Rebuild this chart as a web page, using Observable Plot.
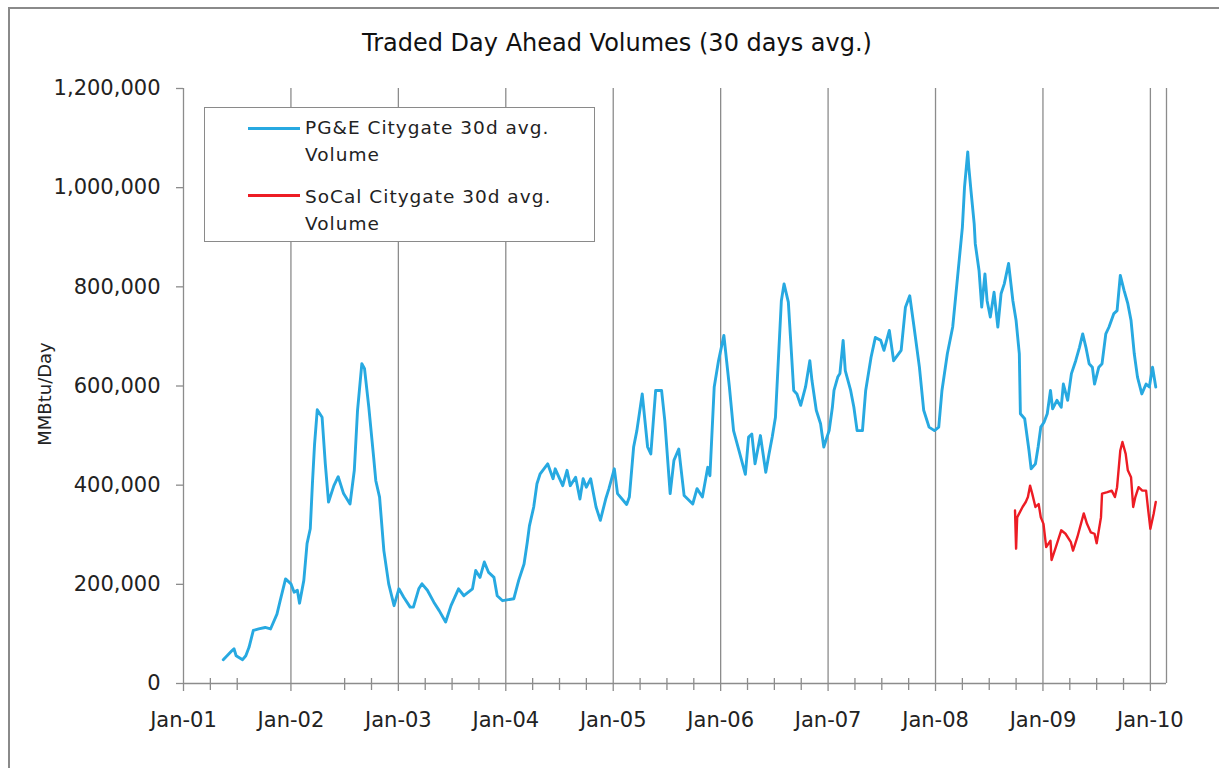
<!DOCTYPE html>
<html>
<head>
<meta charset="utf-8">
<script src="https://cdn.jsdelivr.net/npm/d3@7"></script>
<script src="https://cdn.jsdelivr.net/npm/@observablehq/plot@0.6"></script>
<style>
  body { margin: 0; background: #fff; }
  #wrap { position: relative; width: 1219px; height: 768px; overflow: hidden; background: #fff; font-family: "DejaVu Sans", sans-serif; }
  #frame { position: absolute; left: 8px; top: 7px; width: 1400px; height: 900px; border-left: 2px solid #8a8a8a; border-top: 2px solid #8a8a8a; }
  #chart { position: absolute; left: 0; top: 0; }
  #title { position: absolute; left: 0; width: 1234px; top: 31px; text-align: center; font-size: 24px; line-height: 24px; color: #111; white-space: nowrap; }
  #ylabel { position: absolute; left: 44px; top: 394px; transform: translate(-50%, -50%) rotate(-90deg); font-size: 18px; color: #222; white-space: nowrap; }
  #legend { position: absolute; left: 204px; top: 107px; width: 389px; height: 133px; border: 1px solid #8a8a8a; background: #fff; }
  .sample { position: absolute; left: 43px; width: 52px; height: 2.5px; }
  .ltext { position: absolute; left: 100px; font-size: 18.5px; line-height: 27px; letter-spacing: 1px; color: #222; white-space: nowrap; }
</style>
</head>
<body>
<div id="wrap">
  <div id="frame"></div>
  <div id="chart"></div>
  <div id="title"></div>
  <div id="ylabel"></div>
  <div id="legend"></div>
</div>
<script>
// ---- data ----
const chartTitle = "Traded Day Ahead Volumes (30 days avg.)";
const yLabel = "MMBtu/Day";
const seriesNames = ["PG&E Citygate 30d avg.|Volume", "SoCal Citygate 30d avg.|Volume"];
const seriesColors = ["#27a9e1", "#ed1c24"];

const majorYears = [2001, 2002, 2003, 2004, 2005, 2006, 2007, 2008, 2009, 2010];
const xTickLabels = ["Jan-01", "Jan-02", "Jan-03", "Jan-04", "Jan-05", "Jan-06", "Jan-07", "Jan-08", "Jan-09", "Jan-10"];
const minorTicks = [2001.25, 2001.5, 2002.5, 2002.75,
  2003.25, 2003.5, 2003.75, 2004.25, 2004.5, 2004.75, 2005.25, 2005.5, 2005.75,
  2006.25, 2006.5, 2006.75, 2007.25, 2007.5, 2007.75, 2008.25, 2008.5, 2008.75,
  2009.25, 2009.5, 2009.75];
const xEnd = 2010.15;
const yTicks = [0, 200000, 400000, 600000, 800000, 1000000, 1200000];

// PG&E Citygate 30d avg. volume (decimal year, MMBtu/day)
const pgeYears = [2001.37,2001.45,2001.47,2001.49,2001.55,2001.58,2001.61,2001.65,2001.70,2001.76,2001.81,2001.87,2001.90,2001.95,
  2002.00,2002.03,2002.06,2002.08,2002.12,2002.15,2002.18,2002.20,2002.22,2002.245,2002.29,2002.32,2002.35,2002.40,2002.44,2002.49,2002.55,2002.59,2002.62,2002.66,2002.685,2002.725,2002.77,2002.79,2002.825,2002.865,2002.91,2002.96,
  2003.005,2003.05,2003.11,2003.14,2003.19,2003.22,2003.27,2003.33,2003.38,2003.44,2003.49,2003.56,2003.61,2003.69,2003.72,2003.76,2003.80,2003.84,2003.89,2003.92,2003.97,
  2004.075,2004.12,2004.17,2004.20,2004.22,2004.26,2004.29,2004.32,2004.39,2004.44,2004.46,2004.53,2004.57,2004.60,2004.65,2004.69,2004.72,2004.75,2004.79,2004.84,2004.88,2004.93,2004.96,
  2005.01,2005.04,2005.125,2005.15,2005.19,2005.22,2005.27,2005.32,2005.35,2005.395,2005.45,2005.48,2005.53,2005.565,2005.61,2005.66,2005.74,2005.78,2005.83,2005.88,2005.90,2005.94,2005.98,
  2006.03,2006.08,2006.12,2006.17,2006.23,2006.26,2006.29,2006.32,2006.37,2006.42,2006.45,2006.48,2006.51,2006.54,2006.565,2006.59,2006.63,2006.65,2006.68,2006.71,2006.745,2006.79,2006.83,2006.85,2006.89,2006.93,2006.96,2006.99,
  2007.01,2007.04,2007.055,2007.09,2007.11,2007.14,2007.16,2007.21,2007.24,2007.27,2007.32,2007.35,2007.40,2007.44,2007.49,2007.52,2007.57,2007.61,2007.68,2007.72,2007.76,2007.80,2007.85,2007.89,2007.94,2007.99,
  2008.03,2008.06,2008.11,2008.16,2008.19,2008.22,2008.25,2008.27,2008.30,2008.31,2008.33,2008.36,2008.37,2008.405,2008.43,2008.46,2008.48,2008.51,2008.545,2008.58,2008.61,2008.64,2008.68,2008.72,2008.75,2008.78,2008.79,2008.83,2008.87,2008.89,2008.93,2008.955,2008.98,
  2009.01,2009.04,2009.07,2009.09,2009.13,2009.17,2009.19,2009.23,2009.265,2009.305,2009.34,2009.37,2009.40,2009.43,2009.46,2009.48,2009.52,2009.55,2009.585,2009.615,2009.66,2009.69,2009.72,2009.755,2009.79,2009.82,2009.85,2009.88,2009.92,2009.96,2009.99,
  2010.02,2010.05];
const pgeValues = [48000,66000,70000,56000,48000,56000,73000,107000,110000,113000,110000,140000,167000,211000,
  201000,184000,188000,162000,208000,282000,312000,403000,483000,552000,537000,443000,366000,399000,417000,383000,362000,430000,551000,645000,635000,557000,456000,409000,376000,268000,201000,157000,
  191000,174000,154000,154000,191000,201000,188000,164000,147000,124000,157000,191000,177000,191000,228000,214000,245000,224000,214000,177000,167000,
  171000,208000,241000,285000,318000,356000,403000,423000,443000,413000,433000,399000,430000,399000,416000,372000,413000,396000,413000,356000,329000,372000,393000,
  433000,383000,361000,376000,477000,510000,584000,477000,463000,591000,591000,530000,383000,450000,473000,379000,362000,393000,376000,436000,419000,598000,651000,
  702000,601000,510000,470000,422000,497000,503000,443000,500000,426000,463000,497000,537000,665000,772000,806000,769000,698000,591000,584000,561000,598000,651000,611000,551000,524000,477000,497000,
  510000,557000,591000,618000,625000,692000,631000,591000,557000,510000,510000,591000,658000,698000,692000,672000,712000,651000,672000,759000,782000,719000,638000,551000,517000,510000,
  517000,591000,665000,719000,786000,853000,920000,1001000,1072000,1041000,994000,927000,887000,833000,759000,826000,772000,739000,789000,719000,786000,806000,847000,772000,732000,665000,544000,534000,470000,433000,443000,477000,517000,
  527000,544000,591000,554000,571000,557000,604000,571000,625000,651000,678000,705000,678000,645000,638000,604000,638000,645000,705000,719000,746000,752000,823000,793000,766000,732000,665000,618000,584000,604000,598000,
  638000,598000];

// SoCal Citygate 30d avg. volume (decimal year, MMBtu/day)
const socalYears = [2008.74,2008.75,2008.76,2008.81,2008.84,2008.86,2008.88,2008.90,2008.93,2008.96,2008.98,
  2009.005,2009.03,2009.07,2009.08,2009.12,2009.17,2009.21,2009.26,2009.28,2009.32,2009.38,2009.41,2009.445,2009.48,2009.50,2009.54,2009.55,2009.60,2009.64,2009.67,2009.69,2009.72,2009.74,2009.77,2009.79,2009.82,2009.84,2009.86,2009.89,2009.925,2009.96,2009.98,
  2010.00,2010.03,2010.05];
const socalValues = [349000,272000,335000,356000,366000,376000,399000,383000,356000,362000,335000,
  322000,275000,288000,249000,275000,309000,302000,285000,268000,295000,343000,322000,305000,302000,283000,335000,383000,386000,389000,376000,396000,470000,487000,463000,430000,416000,356000,376000,396000,389000,389000,349000,
  312000,342000,366000];

// ---- build tables ----
const pge = pgeYears.map((t, i) => ({year: t, value: pgeValues[i]}));
const socal = socalYears.map((t, i) => ({year: t, value: socalValues[i]}));
const gridYears = majorYears.slice(1);
const gray = "#8c8c8c";

const chart = Plot.plot({
  width: 1219,
  height: 768,
  marginTop: 88,
  marginBottom: 85,
  marginLeft: 183,
  marginRight: 53,
  style: {fontFamily: "DejaVu Sans", fontSize: "21px", color: "#222", background: "transparent", overflow: "visible"},
  x: {type: "linear", domain: [2001, xEnd]},
  y: {domain: [0, 1200000]},
  marks: [
    Plot.ruleX(gridYears, {stroke: gray, strokeWidth: 1.3, insetBottom: -8}),
    Plot.ruleX([xEnd], {stroke: gray, strokeWidth: 1.3}),
    Plot.ruleX(minorTicks, {stroke: gray, strokeWidth: 1.3, insetTop: 590, insetBottom: -7}),
    Plot.ruleX([2001], {stroke: gray, strokeWidth: 1.3, insetBottom: -8}),
    Plot.ruleY([0], {stroke: gray, strokeWidth: 1.3}),
    Plot.axisX({ticks: majorYears, tickFormat: d => xTickLabels[majorYears.indexOf(d)], tickSize: 0, tickPadding: 29, label: null, fill: "#222"}),
    Plot.axisY({ticks: yTicks, tickFormat: d3.format(","), tickSize: 7, tickPadding: 16, label: null, stroke: gray, strokeWidth: 1.3, fill: "#222"}),
    Plot.line(pge, {x: "year", y: "value", stroke: seriesColors[0], strokeWidth: 2.9, curve: "linear"}),
    Plot.line(socal, {x: "year", y: "value", stroke: seriesColors[1], strokeWidth: 2.4, curve: "linear"})
  ]
});
document.getElementById("chart").appendChild(chart);

document.getElementById("title").textContent = chartTitle;
document.getElementById("ylabel").textContent = yLabel;

// legend
const legend = document.getElementById("legend");
const sampleTops = [19, 86];
const textTops = [6, 75];
seriesNames.forEach((name, i) => {
  const s = document.createElement("div");
  s.className = "sample";
  s.style.top = sampleTops[i] + "px";
  s.style.background = seriesColors[i];
  legend.appendChild(s);
  const t = document.createElement("div");
  t.className = "ltext";
  t.style.top = textTops[i] + "px";
  const parts = name.split("|");
  t.appendChild(document.createTextNode(parts[0]));
  t.appendChild(document.createElement("br"));
  t.appendChild(document.createTextNode(parts[1]));
  legend.appendChild(t);
});
</script>
</body>
</html>
